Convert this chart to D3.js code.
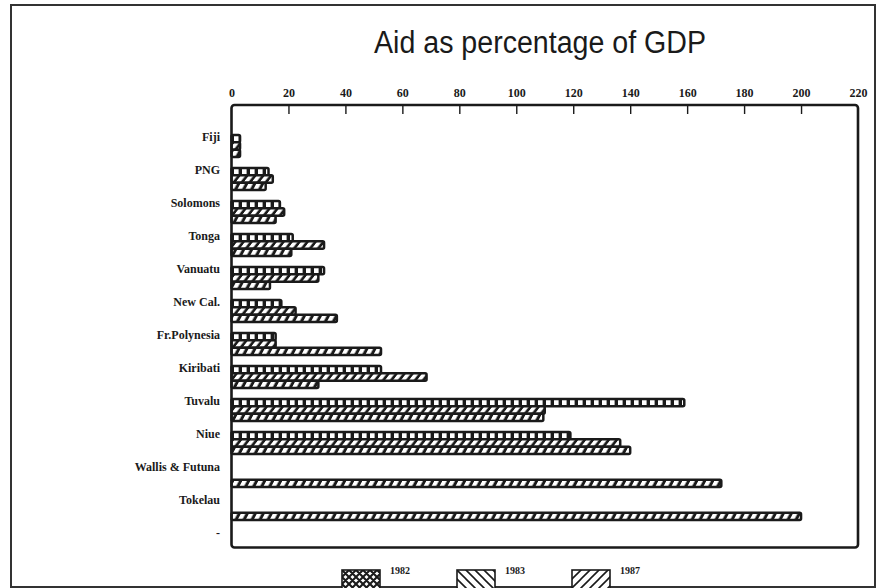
<!DOCTYPE html>
<html>
<head>
<meta charset="utf-8">
<script src="https://cdn.jsdelivr.net/npm/d3@7"></script>
<style>
  html, body { margin: 0; padding: 0; background: #fff; }
  svg { display: block; }
</style>
</head>
<body>
<script>
// Aid as a percentage of GDP, Pacific island economies, 1982 / 1983 / 1987
const categories = ["Fiji", "PNG", "Solomons", "Tonga", "Vanuatu", "New Cal.", "Fr.Polynesia",
                    "Kiribati", "Tuvalu", "Niue", "Wallis & Futuna", "Tokelau", "-"];
const seriesNames = ["1982", "1983", "1987"];
const aid1982 = [3, 13, 17, 21.5, 32.5, 17.5, 15.5, 52.5, 159, 119, null, null, null];
const aid1983 = [3, 14.5, 18.5, 32.5, 30.5, 22.5, 15.5, 68.5, 110, 136.5, null, null, null];
const aid1987 = [3, 12, 15.5, 21, 13.5, 37, 52.5, 30.5, 109.5, 140, 172, 200, null];
const xTickValues = [0, 20, 40, 60, 80, 100, 120, 140, 160, 180, 200, 220];
const titleText = "Aid as percentage of GDP";

const W = 878, H = 588;
const plot = { left: 231.5, top: 105, right: 858, bottom: 547.5 };

const svg = d3.select("body").append("svg")
  .attr("width", W).attr("height", H);

const defs = svg.append("defs");

// fills used inside the thin bars
function barPattern(id, skew) {
  const p = defs.append("pattern")
    .attr("id", id).attr("patternUnits", "userSpaceOnUse")
    .attr("width", 8).attr("height", 8);
  if (skew) p.attr("patternTransform", `skewX(${skew})`);
  p.append("rect").attr("width", 8).attr("height", 8).attr("fill", "#1a1a1a");
  p.append("rect").attr("x", 2).attr("width", 4.6).attr("height", 8).attr("fill", "#fff");
}
barPattern("bar1982", 0);
barPattern("bar1983", -38);
barPattern("bar1987", -28);

// fills used in the legend swatches
const lg82 = defs.append("pattern").attr("id", "leg1982").attr("patternUnits", "userSpaceOnUse")
  .attr("width", 7).attr("height", 7);
lg82.append("rect").attr("width", 7).attr("height", 7).attr("fill", "#fff");
lg82.append("path").attr("d", "M0,0L7,7M7,0L0,7M-1,6L1,8M6,-1L8,1M-1,1L1,-1M6,8L8,6")
  .attr("stroke", "#1a1a1a").attr("stroke-width", 2.1);

function hatch(id, dir) {
  const p = defs.append("pattern").attr("id", id).attr("patternUnits", "userSpaceOnUse")
    .attr("width", 9).attr("height", 9);
  p.append("rect").attr("width", 9).attr("height", 9).attr("fill", "#fff");
  const d = dir > 0 ? "M0,9L9,0M-3,3L3,-3M6,12L12,6" : "M0,0L9,9M-3,6L3,12M6,-3L12,3";
  p.append("path").attr("d", d).attr("stroke", "#1a1a1a").attr("stroke-width", 1.6);
}
hatch("leg1983", -1);
hatch("leg1987", 1);

// outer frame
svg.append("rect")
  .attr("x", 11).attr("y", 5).attr("width", 864).attr("height", 582)
  .attr("fill", "none").attr("stroke", "#333").attr("stroke-width", 2);

// title
svg.append("text")
  .attr("x", 540).attr("y", 53)
  .attr("text-anchor", "middle")
  .attr("font-family", "Liberation Sans, Arial, sans-serif")
  .attr("font-size", 31)
  .attr("textLength", 332).attr("lengthAdjust", "spacingAndGlyphs")
  .attr("fill", "#1a1a1a")
  .text(titleText);

// scales
const x = d3.scaleLinear().domain([0, 220]).range([plot.left, plot.right]);
const y = d3.scaleBand().domain(categories)
  .range([135, 135 + 33 * 12 + 22])
  .paddingInner(1 / 3).paddingOuter(0);
const ySub = d3.scaleBand().domain(seriesNames).range([0, y.bandwidth()]).padding(0);

const seriesValues = { "1982": aid1982, "1983": aid1983, "1987": aid1987 };

// bars
const barData = [];
categories.forEach((c, i) => {
  seriesNames.forEach(s => {
    const v = seriesValues[s][i];
    if (v != null) barData.push({ cat: c, series: s, value: v });
  });
});

svg.append("g").selectAll("rect")
  .data(barData)
  .join("rect")
  .attr("x", x(0))
  .attr("y", d => y(d.cat) + ySub(d.series))
  .attr("width", d => x(d.value) - x(0))
  .attr("height", ySub.bandwidth())
  .attr("rx", 1.5)
  .attr("fill", d => `url(#bar${d.series})`)
  .attr("stroke", "#1a1a1a")
  .attr("stroke-width", 2.5);

// plot box
svg.append("rect")
  .attr("x", plot.left).attr("y", plot.top)
  .attr("width", plot.right - plot.left).attr("height", plot.bottom - plot.top)
  .attr("rx", 3)
  .attr("fill", "none").attr("stroke", "#1a1a1a").attr("stroke-width", 2.6);

// top value axis with inward ticks
const xAxis = d3.axisTop(x)
  .tickValues(xTickValues)
  .tickFormat(d3.format("d"))
  .tickSizeInner(-9).tickSizeOuter(0).tickPadding(8);

const gx = svg.append("g")
  .attr("transform", `translate(0,${plot.top})`)
  .call(xAxis);
gx.select(".domain").remove();
gx.selectAll(".tick line")
  .attr("stroke", "#1a1a1a").attr("stroke-width", 1.4)
  .attr("display", d => (d === 0 || d === 220) ? "none" : null);
gx.selectAll(".tick text")
  .attr("font-family", "Liberation Serif, Times New Roman, serif")
  .attr("font-weight", "bold")
  .attr("font-size", 12)
  .attr("fill", "#1a1a1a");

// category labels, aligned with the first bar of each group
svg.append("g").selectAll("text")
  .data(categories)
  .join("text")
  .attr("x", 220)
  .attr("y", d => y(d) + 6)
  .attr("text-anchor", "end")
  .attr("font-family", "Liberation Serif, Times New Roman, serif")
  .attr("font-weight", "bold")
  .attr("font-size", 12)
  .attr("fill", "#1a1a1a")
  .text(d => d);

// legend
const legendX = d3.scalePoint().domain(seriesNames).range([342, 572]);
const lg = svg.append("g").selectAll("g")
  .data(seriesNames)
  .join("g")
  .attr("transform", d => `translate(${legendX(d)},570)`);
lg.append("rect")
  .attr("width", 38).attr("height", 22)
  .attr("fill", d => `url(#leg${d})`)
  .attr("stroke", "#1a1a1a").attr("stroke-width", 1.6);
lg.append("text")
  .attr("x", 48).attr("y", 4)
  .attr("font-family", "Liberation Serif, Times New Roman, serif")
  .attr("font-weight", "bold")
  .attr("font-size", 10)
  .attr("fill", "#1a1a1a")
  .text(d => d);
</script>
</body>
</html>
